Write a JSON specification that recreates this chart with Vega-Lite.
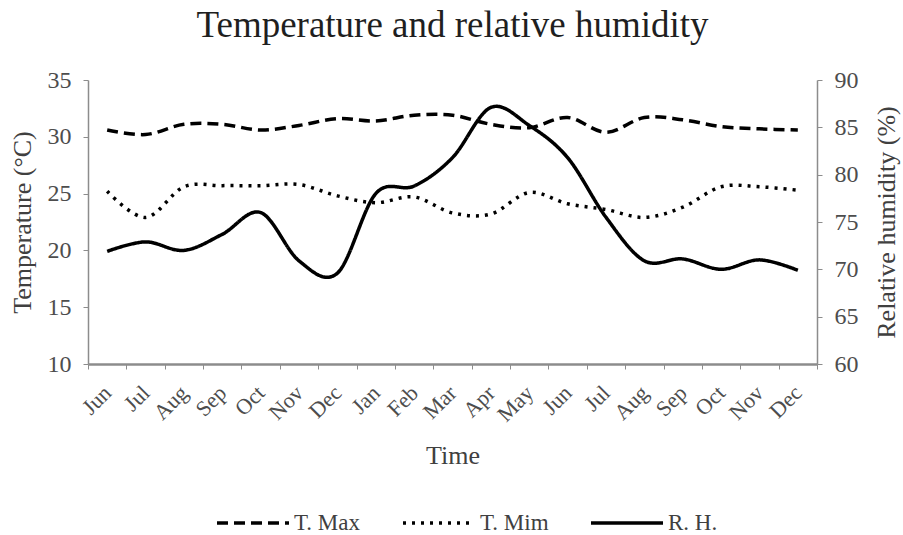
{
  "$schema": "https://vega.github.io/schema/vega-lite/v6.json",
  "width": 729,
  "height": 284,
  "autosize": {"type": "none"},
  "padding": {"left": 88, "top": 80, "right": 86, "bottom": 171},
  "background": "white",
  "config": {
    "font": "Liberation Serif",
    "view": {"stroke": null},
    "axis": {"grid": false, "labelFont": "Liberation Serif", "titleFont": "Liberation Serif", "labelColor": "#4d4d4d", "titleColor": "#404040", "domainColor": "#8c8c8c", "tickColor": "#8c8c8c", "titleFontWeight": "normal"}
  },
  "title": {"text": "Temperature and relative humidity", "fontSize": 37, "font": "Liberation Serif", "fontWeight": "normal", "color": "#1f1f1f", "offset": -6, "baseline": "alphabetic", "anchor": "middle", "frame": "group"},
  "data": {"values": [
    {"i": 0, "series": "T. Max", "value": 30.6}, {"i": 1, "series": "T. Max", "value": 30.2}, {"i": 2, "series": "T. Max", "value": 31.1}, {"i": 3, "series": "T. Max", "value": 31.1}, {"i": 4, "series": "T. Max", "value": 30.6}, {"i": 5, "series": "T. Max", "value": 31.0}, {"i": 6, "series": "T. Max", "value": 31.6}, {"i": 7, "series": "T. Max", "value": 31.4}, {"i": 8, "series": "T. Max", "value": 31.9}, {"i": 9, "series": "T. Max", "value": 31.9}, {"i": 10, "series": "T. Max", "value": 31.1}, {"i": 11, "series": "T. Max", "value": 30.8}, {"i": 12, "series": "T. Max", "value": 31.7}, {"i": 13, "series": "T. Max", "value": 30.4}, {"i": 14, "series": "T. Max", "value": 31.7}, {"i": 15, "series": "T. Max", "value": 31.5}, {"i": 16, "series": "T. Max", "value": 30.9}, {"i": 17, "series": "T. Max", "value": 30.7}, {"i": 18, "series": "T. Max", "value": 30.6},
    {"i": 0, "series": "T. Mim", "value": 25.2}, {"i": 1, "series": "T. Mim", "value": 22.9}, {"i": 2, "series": "T. Mim", "value": 25.6}, {"i": 3, "series": "T. Mim", "value": 25.7}, {"i": 4, "series": "T. Mim", "value": 25.7}, {"i": 5, "series": "T. Mim", "value": 25.8}, {"i": 6, "series": "T. Mim", "value": 24.8}, {"i": 7, "series": "T. Mim", "value": 24.2}, {"i": 8, "series": "T. Mim", "value": 24.7}, {"i": 9, "series": "T. Mim", "value": 23.3}, {"i": 10, "series": "T. Mim", "value": 23.2}, {"i": 11, "series": "T. Mim", "value": 25.1}, {"i": 12, "series": "T. Mim", "value": 24.1}, {"i": 13, "series": "T. Mim", "value": 23.6}, {"i": 14, "series": "T. Mim", "value": 22.9}, {"i": 15, "series": "T. Mim", "value": 23.8}, {"i": 16, "series": "T. Mim", "value": 25.6}, {"i": 17, "series": "T. Mim", "value": 25.6}, {"i": 18, "series": "T. Mim", "value": 25.3},
    {"i": 0, "series": "R. H.", "value": 71.9}, {"i": 1, "series": "R. H.", "value": 72.9}, {"i": 2, "series": "R. H.", "value": 72.0}, {"i": 3, "series": "R. H.", "value": 73.7}, {"i": 4, "series": "R. H.", "value": 76.0}, {"i": 5, "series": "R. H.", "value": 70.9}, {"i": 6, "series": "R. H.", "value": 69.6}, {"i": 7, "series": "R. H.", "value": 78.0}, {"i": 8, "series": "R. H.", "value": 78.8}, {"i": 9, "series": "R. H.", "value": 81.8}, {"i": 10, "series": "R. H.", "value": 87.1}, {"i": 11, "series": "R. H.", "value": 85.2}, {"i": 12, "series": "R. H.", "value": 81.8}, {"i": 13, "series": "R. H.", "value": 75.5}, {"i": 14, "series": "R. H.", "value": 70.9}, {"i": 15, "series": "R. H.", "value": 71.1}, {"i": 16, "series": "R. H.", "value": 70.0}, {"i": 17, "series": "R. H.", "value": 71.0}, {"i": 18, "series": "R. H.", "value": 69.9}
  ]},
  "encoding": {
    "x": {
      "field": "i", "type": "ordinal", "bandPosition": 0.5,
      "scale": {"type": "band", "paddingInner": 0, "paddingOuter": 0},
      "axis": {
        "title": "Time",
        "labelExpr": "['Jun','Jul','Aug','Sep','Oct','Nov','Dec','Jan','Feb','Mar','Apr','May','Jun','Jul','Aug','Sep','Oct','Nov','Dec'][datum.value]",
        "labelAngle": -45, "labelAlign": "right", "labelBaseline": "middle", "labelFontSize": 22,
        "tickBand": "extent", "tickSize": 5, "labelPadding": 20, "domainWidth": 2.5,
        "titleFontSize": 26, "titleY": 91, "titleX": 364.5, "titleBaseline": "middle", "titleAlign": "center"
      }
    },
    "strokeDash": {
      "field": "series", "type": "nominal",
      "scale": {"domain": ["T. Max", "T. Mim", "R. H."], "range": [[11, 6], [3, 6], [1, 0]]},
      "legend": {
        "orient": "none", "legendX": 127, "legendY": 405, "direction": "horizontal", "title": null,
        "symbolType": "stroke", "symbolSize": 5184, "symbolStrokeWidth": 3.5, "symbolStrokeColor": "black",
        "labelFontSize": 23, "labelColor": "#404040", "labelFont": "Liberation Serif", "labelOffset": 3, "columnPadding": 35, "padding": 0
      }
    }
  },
  "layer": [
    {
      "transform": [{"filter": "datum.series !== 'R. H.'"}],
      "mark": {"type": "line", "interpolate": "cardinal", "color": "black", "strokeWidth": 3.5, "strokeCap": "butt"},
      "encoding": {
        "y": {
          "field": "value", "type": "quantitative", "scale": {"domain": [10, 35]},
          "axis": {"title": "Temperature (°C)", "values": [10, 15, 20, 25, 30, 35], "labelFontSize": 24, "tickSize": 5, "labelPadding": 12, "domainWidth": 1.5,
                   "titleFontSize": 26, "titleX": -66, "titleY": 142, "titleAngle": -90, "titleBaseline": "middle", "titleAlign": "center"}
        }
      }
    },
    {
      "transform": [{"filter": "datum.series === 'R. H.'"}],
      "mark": {"type": "line", "interpolate": "cardinal", "color": "black", "strokeWidth": 3.5},
      "encoding": {
        "y": {
          "field": "value", "type": "quantitative", "scale": {"domain": [60, 90]},
          "axis": {"orient": "right", "title": "Relative humidity (%)", "values": [60, 65, 70, 75, 80, 85, 90], "labelFontSize": 24, "tickSize": 5, "labelPadding": 12, "domainWidth": 1.5,
                   "titleFontSize": 26, "titleX": 69, "titleY": 142, "titleAngle": -90, "titleBaseline": "middle", "titleAlign": "center"}
        }
      }
    }
  ],
  "resolve": {"scale": {"y": "independent"}}
}
